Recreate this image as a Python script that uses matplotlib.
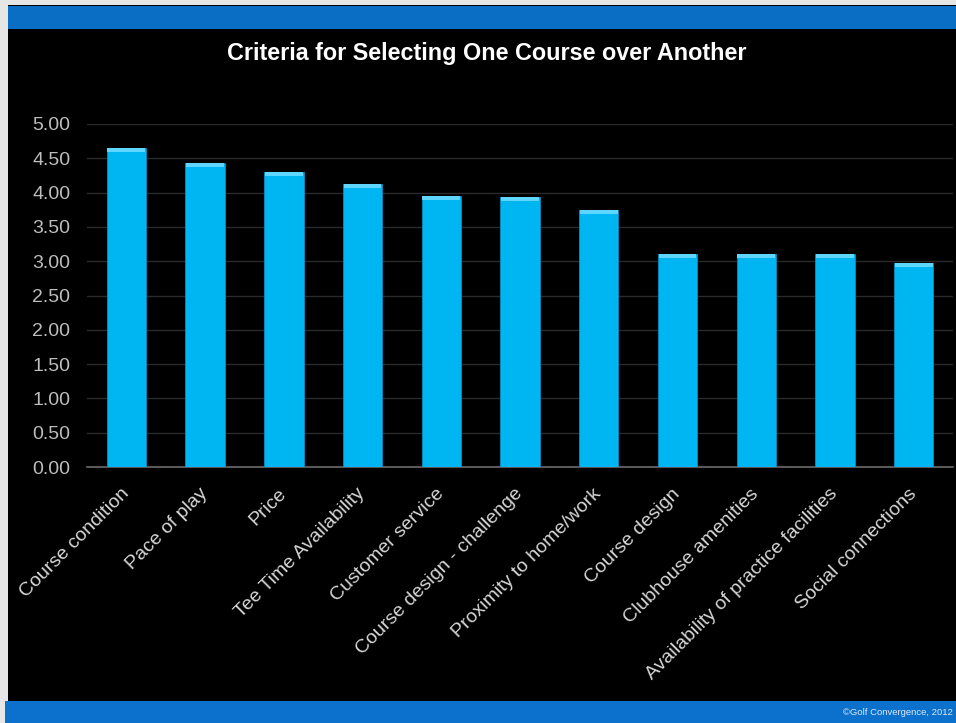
import numpy as np
import matplotlib.pyplot as plt
from matplotlib.patches import Rectangle
from matplotlib.transforms import ScaledTranslation

# survey scores per selection criterion
criteria = ["Course condition", "Pace of play", "Price", "Tee Time Availability",
            "Customer service", "Course design - challenge", "Proximity to home/work",
            "Course design", "Clubhouse amenities", "Availability of practice facilities",
            "Social connections"]
scores = [4.65, 4.43, 4.30, 4.12, 3.95, 3.94, 3.75, 3.11, 3.10, 3.10, 2.98]
yticks = [0.0, 0.5, 1.0, 1.5, 2.0, 2.5, 3.0, 3.5, 4.0, 4.5, 5.0]

plt.rcParams['font.family'] = ['Liberation Sans', 'DejaVu Sans']

fig = plt.figure(figsize=(9.56, 7.23), dpi=100, facecolor="black")

# slide frame: light edge, blue header and footer bands
fig.patches.append(Rectangle((0, 0), 1, 1, transform=fig.transFigure,
                             facecolor="#e6e6e6", edgecolor="none", zorder=-3))
fig.patches.append(Rectangle((0.008, 0), 0.992, 0.993, transform=fig.transFigure,
                             facecolor="black", edgecolor="none", zorder=-2))
fig.patches.append(Rectangle((0.008, 0.96), 0.992, 0.032, transform=fig.transFigure,
                             facecolor="#0a6fc4", edgecolor="none", zorder=-1))
fig.patches.append(Rectangle((0.005, 0), 0.995, 0.03, transform=fig.transFigure,
                             facecolor="#0b71cd", edgecolor="none", zorder=-1))

fig.text(0.509, 0.926, "Criteria for Selecting One Course over Another",
         color="white", fontsize=16.8, fontweight="bold", ha="center", va="center")
fig.text(0.882, 0.015, "\u00a9Golf Convergence, 2012", color="#dce8f5",
         fontsize=6.8, ha="left", va="center")

ax = fig.add_axes([0.091, 0.354, 0.906, 0.4745])
ax.set_facecolor("black")

x = np.arange(len(criteria))
ax.bar(x, scores, width=0.5, color="#00b6f2", edgecolor="#0a8cc0",
       linewidth=0.6, zorder=3)
# lighter rim along the top of each bar
ax.bar(x, [0.06] * len(scores), bottom=np.array(scores) - 0.06, width=0.48,
       color="#5fd6ff", edgecolor="none", zorder=4)

ax.set_xlim(-0.5, 10.5)
ax.set_ylim(0, 5.0)
ax.set_yticks(yticks)
ax.set_yticklabels(["%.2f" % v for v in yticks])
ax.yaxis.grid(True, color="#2a2a2a", linewidth=1.0, zorder=0)
ax.set_axisbelow(True)

ax.set_xticks(x)
ax.set_xticklabels(criteria, rotation=45, ha="right", va="top",
                   rotation_mode="anchor")
ax.tick_params(axis="x", colors="#d6d6d6", labelsize=14, length=0, pad=13)
ax.tick_params(axis="y", colors="#bdbdbd", labelsize=14, length=0, pad=12)
shift = ScaledTranslation(-6 / 100, 0, fig.dpi_scale_trans)
for lbl in ax.get_xticklabels():
    lbl.set_color("#d6d6d6")
    lbl.set_transform(lbl.get_transform() + shift)
for lbl in ax.get_yticklabels():
    lbl.set_color("#bdbdbd")

for side in ["top", "right", "left"]:
    ax.spines[side].set_visible(False)
ax.spines["bottom"].set_color("#6a6a6a")
ax.spines["bottom"].set_linewidth(1.2)

fig.savefig("out.png", dpi=100, facecolor=fig.get_facecolor())
